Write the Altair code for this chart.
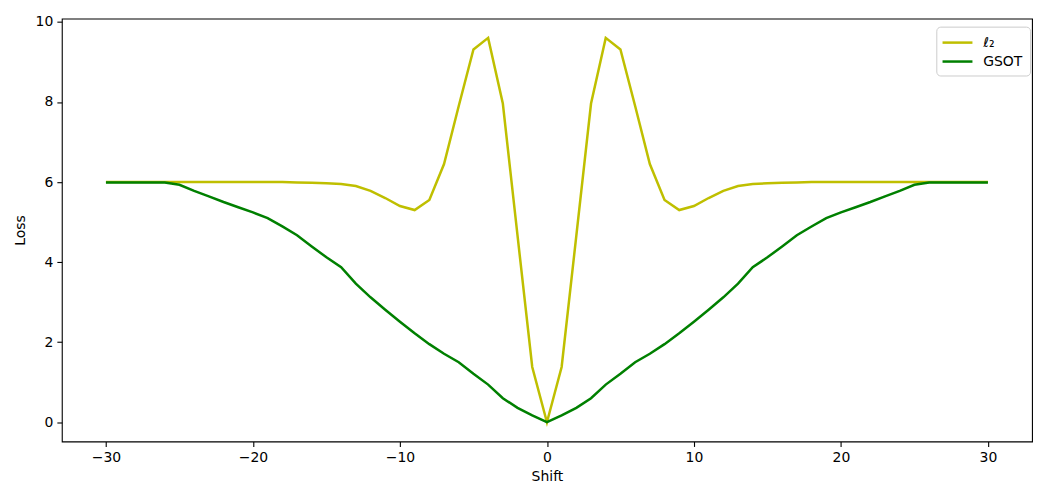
import altair as alt
import pandas as pd

shifts = list(range(-30, 31))

l2_loss = [
    6.00, 6.00, 6.00, 6.00, 6.00, 6.00, 6.00, 6.00, 6.00, 6.00,
    6.00, 6.00, 6.00, 5.99, 5.98, 5.97, 5.95, 5.90, 5.78, 5.60,
    5.40, 5.30, 5.55, 6.45, 7.90, 9.31, 9.60, 7.96, 4.66, 1.38,
    0.00,
    1.38, 4.66, 7.96, 9.60, 9.31, 7.90, 6.45, 5.55, 5.30, 5.40,
    5.60, 5.78, 5.90, 5.95, 5.97, 5.98, 5.99, 6.00, 6.00, 6.00,
    6.00, 6.00, 6.00, 6.00, 6.00, 6.00, 6.00, 6.00, 6.00, 6.00,
]

gsot_loss = [
    5.99, 5.99, 5.99, 5.99, 5.99, 5.93, 5.78, 5.64, 5.50, 5.37,
    5.24, 5.10, 4.89, 4.67, 4.39, 4.12, 3.87, 3.46, 3.12, 2.81,
    2.51, 2.22, 1.95, 1.71, 1.50, 1.21, 0.94, 0.60, 0.36, 0.17,
    0.00,
    0.17, 0.36, 0.60, 0.94, 1.21, 1.50, 1.71, 1.95, 2.22, 2.51,
    2.81, 3.12, 3.46, 3.87, 4.12, 4.39, 4.67, 4.89, 5.10, 5.24,
    5.37, 5.50, 5.64, 5.78, 5.93, 5.99, 5.99, 5.99, 5.99, 5.99,
]

series_names = ["ℓ₂", "GSOT"]
series_colors = ["#bfbf00", "#008000"]

rows = []
for s, a, b in zip(shifts, l2_loss, gsot_loss):
    rows.append({"Shift": s, "Loss": a, "series": series_names[0]})
    rows.append({"Shift": s, "Loss": b, "series": series_names[1]})
df = pd.DataFrame(rows)

FONT = "DejaVu Sans"

chart = alt.Chart(df).mark_line(strokeWidth=2.5).encode(
    x=alt.X("Shift:Q",
            scale=alt.Scale(domain=[-33, 33], nice=False, zero=False),
            axis=alt.Axis(values=[-30, -20, -10, 0, 10, 20, 30], title="Shift")),
    y=alt.Y("Loss:Q",
            scale=alt.Scale(domain=[-0.48, 10.08], nice=False, zero=False),
            axis=alt.Axis(values=[0, 2, 4, 6, 8, 10], title="Loss")),
    color=alt.Color("series:N",
                    scale=alt.Scale(domain=series_names, range=series_colors),
                    sort=series_names,
                    legend=alt.Legend(title=None, orient="none",
                                      legendX=877, legendY=8)),
    order=alt.Order("Shift:Q"),
).properties(
    width=973,
    height=424,
    autosize=alt.AutoSizeParams(type="none"),
    padding={"left": 54, "top": 10, "right": 10, "bottom": 50},
).configure_view(
    stroke="black", strokeWidth=1.1, fill="white"
).configure_axis(
    grid=False,
    domain=False,
    labelFont=FONT, labelFontSize=14, labelColor="black",
    titleFont=FONT, titleFontSize=14, titleColor="black", titleFontWeight="normal",
    tickColor="black", tickSize=5, tickWidth=1.1,
    labelPadding=4,
).configure_axisX(
    titlePadding=5,
).configure_axisY(
    titlePadding=8,
).configure_legend(
    labelFont=FONT, labelFontSize=14, labelColor="black",
    symbolType="M-1.3,0H2.7", symbolStrokeWidth=2.5, symbolSize=225,
    fillColor="white", strokeColor="#cccccc", cornerRadius=4,
    padding=7, rowPadding=3, labelOffset=22,
)

chart.save("out.html", embed_options={"renderer": "svg", "actions": False})
